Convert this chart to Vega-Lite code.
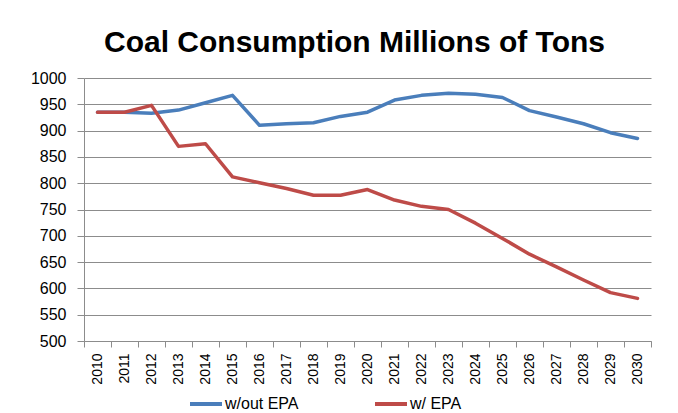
{
  "$schema": "https://vega.github.io/schema/vega-lite/v6.json",
  "width": 567,
  "height": 263,
  "autosize": {"type": "none"},
  "padding": {"left": 84, "top": 78, "right": 27, "bottom": 72},
  "background": "white",
  "title": {
    "text": "Coal Consumption Millions of Tons",
    "font": "Liberation Sans",
    "fontSize": 30,
    "fontWeight": "bold",
    "color": "#000000",
    "anchor": "middle",
    "baseline": "alphabetic",
    "offset": 16,
    "dx": -13,
    "dy": 28
  },
  "data": {
    "values": [
      {"year": "2010", "series": "w/out EPA", "value": 935},
      {"year": "2011", "series": "w/out EPA", "value": 935},
      {"year": "2012", "series": "w/out EPA", "value": 933},
      {"year": "2013", "series": "w/out EPA", "value": 939},
      {"year": "2014", "series": "w/out EPA", "value": 953},
      {"year": "2015", "series": "w/out EPA", "value": 967},
      {"year": "2016", "series": "w/out EPA", "value": 910},
      {"year": "2017", "series": "w/out EPA", "value": 913},
      {"year": "2018", "series": "w/out EPA", "value": 915},
      {"year": "2019", "series": "w/out EPA", "value": 927},
      {"year": "2020", "series": "w/out EPA", "value": 935},
      {"year": "2021", "series": "w/out EPA", "value": 958},
      {"year": "2022", "series": "w/out EPA", "value": 967},
      {"year": "2023", "series": "w/out EPA", "value": 971},
      {"year": "2024", "series": "w/out EPA", "value": 969},
      {"year": "2025", "series": "w/out EPA", "value": 963},
      {"year": "2026", "series": "w/out EPA", "value": 938},
      {"year": "2027", "series": "w/out EPA", "value": 926},
      {"year": "2028", "series": "w/out EPA", "value": 913},
      {"year": "2029", "series": "w/out EPA", "value": 896},
      {"year": "2030", "series": "w/out EPA", "value": 885},
      {"year": "2010", "series": "w/ EPA", "value": 935},
      {"year": "2011", "series": "w/ EPA", "value": 935},
      {"year": "2012", "series": "w/ EPA", "value": 948},
      {"year": "2013", "series": "w/ EPA", "value": 870},
      {"year": "2014", "series": "w/ EPA", "value": 875},
      {"year": "2015", "series": "w/ EPA", "value": 812},
      {"year": "2016", "series": "w/ EPA", "value": 801},
      {"year": "2017", "series": "w/ EPA", "value": 790},
      {"year": "2018", "series": "w/ EPA", "value": 777},
      {"year": "2019", "series": "w/ EPA", "value": 777},
      {"year": "2020", "series": "w/ EPA", "value": 788},
      {"year": "2021", "series": "w/ EPA", "value": 768},
      {"year": "2022", "series": "w/ EPA", "value": 756},
      {"year": "2023", "series": "w/ EPA", "value": 750},
      {"year": "2024", "series": "w/ EPA", "value": 724},
      {"year": "2025", "series": "w/ EPA", "value": 695},
      {"year": "2026", "series": "w/ EPA", "value": 665},
      {"year": "2027", "series": "w/ EPA", "value": 641},
      {"year": "2028", "series": "w/ EPA", "value": 616},
      {"year": "2029", "series": "w/ EPA", "value": 592},
      {"year": "2030", "series": "w/ EPA", "value": 581}
    ]
  },
  "mark": {"type": "line", "strokeWidth": 3.5, "strokeJoin": "round", "strokeCap": "round"},
  "encoding": {
    "x": {
      "field": "year",
      "type": "ordinal",
      "scale": {"type": "band", "paddingInner": 0, "paddingOuter": 0},
      "axis": {
        "title": null,
        "labelAngle": -90,
        "labelFont": "Liberation Sans",
        "labelFontSize": 14,
        "labelColor": "#000000",
        "labelPadding": 6,
        "tickBand": "extent",
        "tickSize": 6,
        "tickColor": "#8c8c8c",
        "domainColor": "#8c8c8c",
        "grid": false
      }
    },
    "y": {
      "field": "value",
      "type": "quantitative",
      "scale": {"domain": [500, 1000], "nice": false, "zero": false},
      "axis": {
        "title": null,
        "format": "d",
        "values": [500, 550, 600, 650, 700, 750, 800, 850, 900, 950, 1000],
        "labelFont": "Liberation Sans",
        "labelFontSize": 16,
        "labelColor": "#000000",
        "labelPadding": 11,
        "tickSize": 7,
        "tickColor": "#8c8c8c",
        "domainColor": "#8c8c8c",
        "grid": true,
        "gridColor": "#8c8c8c",
        "gridOpacity": 1
      }
    },
    "color": {
      "field": "series",
      "type": "nominal",
      "scale": {"domain": ["w/out EPA", "w/ EPA"], "range": ["#4a7ebb", "#be4b48"]},
      "legend": {
        "title": null,
        "orient": "none",
        "legendX": 104,
        "legendY": 308,
        "direction": "horizontal",
        "symbolType": "stroke",
        "symbolSize": 1024,
        "symbolStrokeWidth": 4,
        "labelFont": "Liberation Sans",
        "labelFontSize": 16,
        "labelColor": "#000000",
        "labelOffset": 1,
        "columnPadding": 68
      }
    }
  },
  "config": {"view": {"stroke": null}}
}
